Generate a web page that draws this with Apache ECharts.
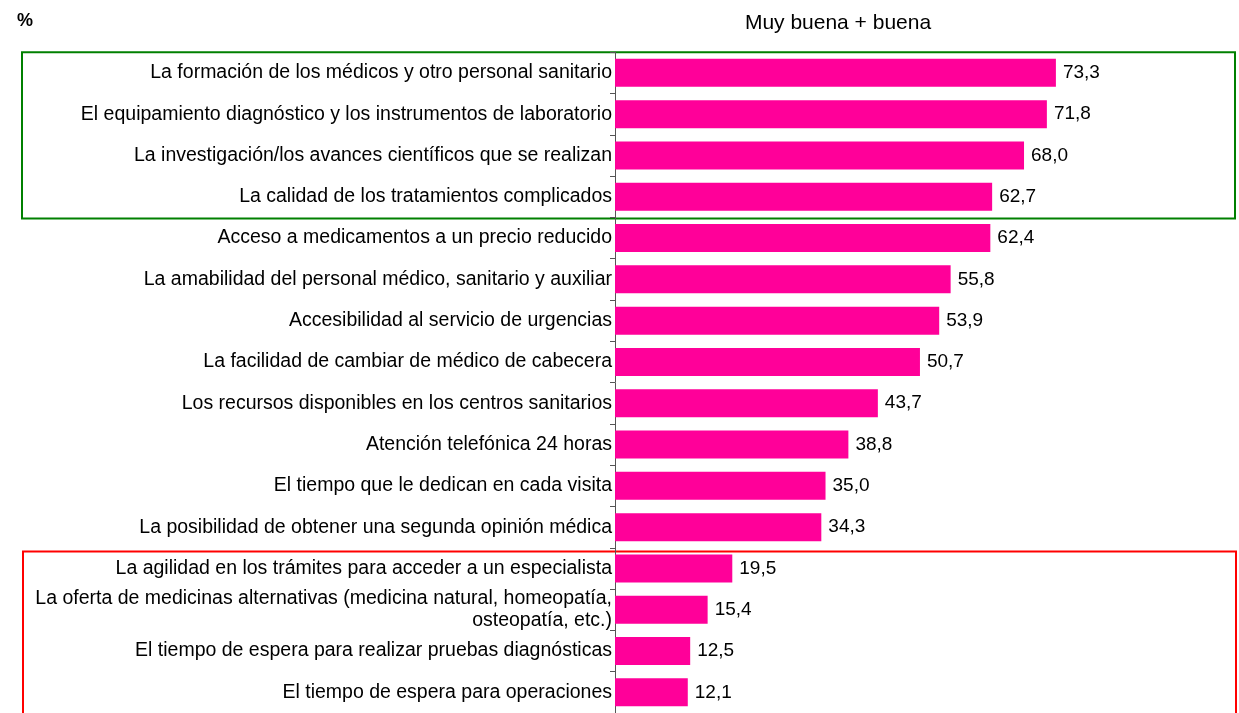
<!DOCTYPE html>
<html>
<head>
<meta charset="utf-8">
<script src="https://cdn.jsdelivr.net/npm/echarts@6/dist/echarts.min.js"></script>
<style>
  html, body { margin: 0; padding: 0; background: #fff; }
  #chart { width: 1239px; height: 713px; }
</style>
</head>
<body>
<div id="chart"></div>
<script>
  // datos
  var categorias = [
    'La formación de los médicos y otro personal sanitario',
    'El equipamiento diagnóstico y los instrumentos de laboratorio',
    'La investigación/los avances científicos que se realizan',
    'La calidad de los tratamientos complicados',
    'Acceso a medicamentos a un precio reducido',
    'La amabilidad del personal médico, sanitario y auxiliar',
    'Accesibilidad al servicio de urgencias',
    'La facilidad de cambiar de médico de cabecera',
    'Los recursos disponibles en los centros sanitarios',
    'Atención telefónica 24 horas',
    'El tiempo que le dedican en cada visita',
    'La posibilidad de obtener una segunda opinión médica',
    'La agilidad en los trámites para acceder a un especialista',
    'La oferta de medicinas alternativas (medicina natural, homeopatía,\nosteopatía, etc.)',
    'El tiempo de espera para realizar pruebas diagnósticas',
    'El tiempo de espera para operaciones'
  ];
  var valores = [73.3, 71.8, 68.0, 62.7, 62.4, 55.8, 53.9, 50.7, 43.7, 38.8, 35.0, 34.3, 19.5, 15.4, 12.5, 12.1];
  var titulo = 'Muy buena + buena';

  // layout
  var gridTop = 52.2;
  var banda = 41.6;
  var gridLeft = 615;
  var fuente = 'Liberation Sans, Arial, sans-serif';

  var myChart = echarts.init(document.getElementById('chart'));
  myChart.setOption({
    animation: false,
    textStyle: { fontFamily: fuente },
    title: {
      text: titulo,
      left: 833,
      top: 8,
      textAlign: 'center',
      textStyle: { fontSize: 21, fontWeight: 'normal', color: '#000', fontFamily: fuente }
    },
    grid: {
      left: gridLeft,
      top: gridTop,
      right: 22.5,
      height: banda * categorias.length
    },
    xAxis: {
      type: 'value',
      min: 0,
      max: 100,
      show: false
    },
    yAxis: {
      type: 'category',
      inverse: true,
      data: categorias,
      axisLine: { lineStyle: { color: '#555', width: 1 } },
      axisTick: { show: true, length: 5, lineStyle: { color: '#555' } },
      axisLabel: {
        margin: 3,
        fontSize: 19.5,
        color: '#000',
        lineHeight: 22,
        fontFamily: fuente
      }
    },
    series: [{
      type: 'bar',
      data: valores,
      barWidth: 28,
      itemStyle: { color: '#ff0099' },
      label: {
        show: true,
        position: 'right',
        distance: 7,
        fontSize: 19,
        color: '#000',
        fontFamily: fuente,
        formatter: function (p) { return p.value.toFixed(1).replace('.', ','); }
      }
    }],
    graphic: [
      {
        type: 'text',
        left: 17,
        top: 12,
        style: { text: '%', fontSize: 18, fontWeight: 'bold', fill: '#000', fontFamily: fuente }
      },
      {
        type: 'rect',
        shape: { x: 22, y: gridTop, width: 1213, height: banda * 4 },
        style: { fill: 'none', stroke: '#008000', lineWidth: 2 }
      },
      {
        type: 'rect',
        shape: { x: 23, y: gridTop + banda * 12, width: 1213, height: banda * 4 + 10 },
        style: { fill: 'none', stroke: '#ff0000', lineWidth: 2 }
      }
    ]
  });
</script>
</body>
</html>
